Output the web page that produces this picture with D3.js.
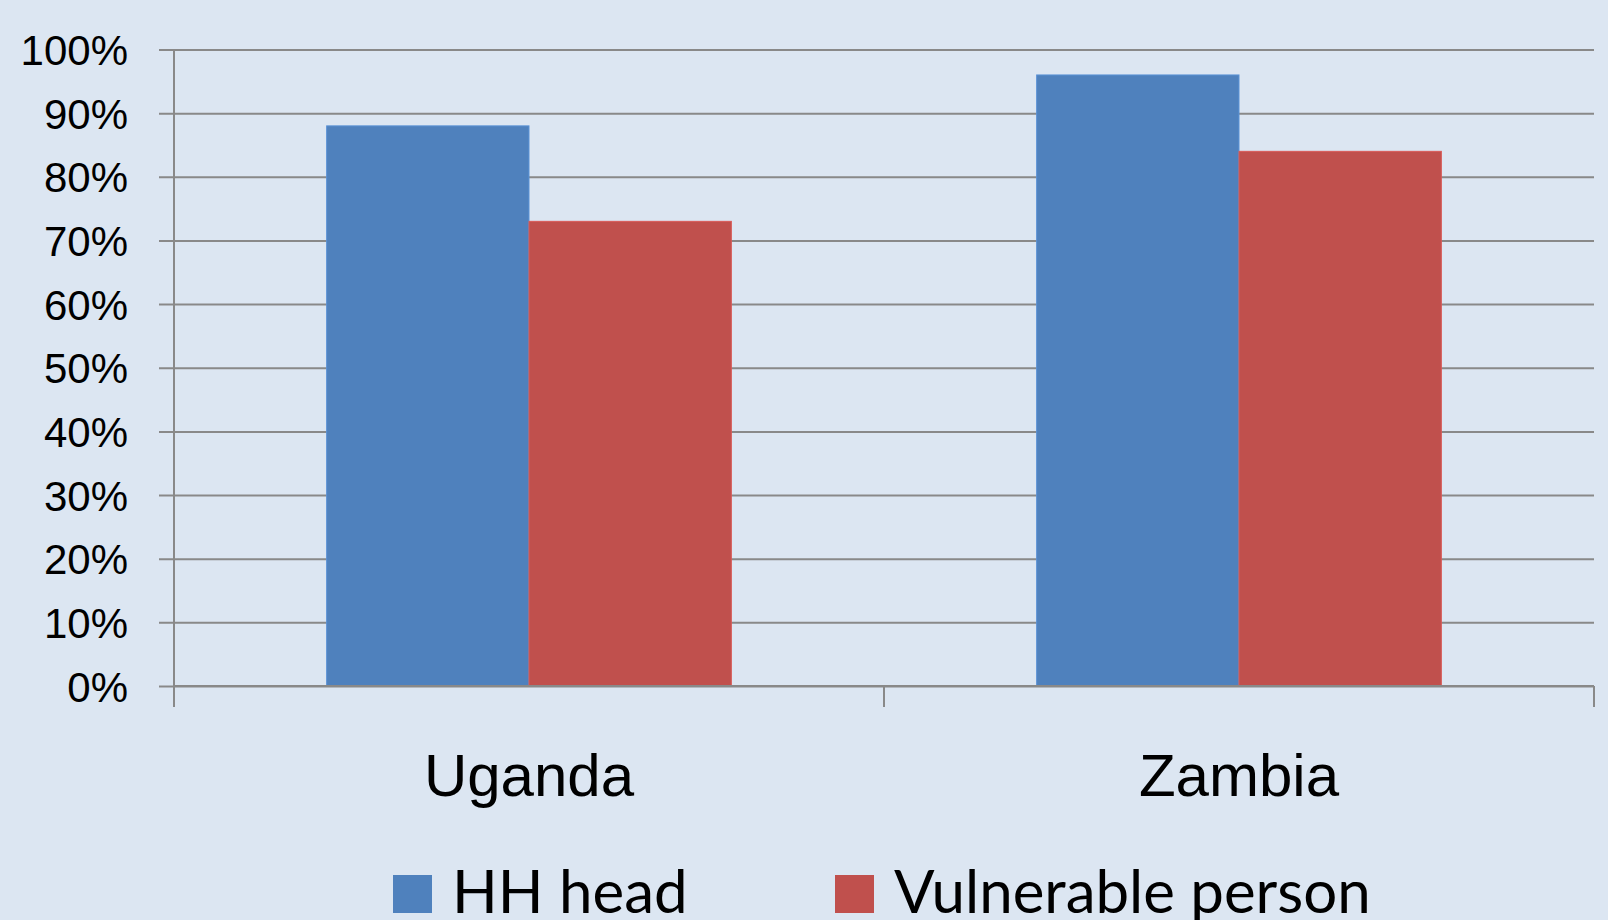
<!DOCTYPE html>
<html>
<head>
<meta charset="utf-8">
<script src="https://cdn.jsdelivr.net/npm/d3@7"></script>
<style>
  html, body { margin: 0; padding: 0; background: #dce6f2; }
  svg { display: block; font-family: Lato, "Open Sans", sans-serif; }
</style>
</head>
<body>
<div id="chart"></div>
<script>
const countries = ['Uganda', 'Zambia'];
const series = ['HH head', 'Vulnerable person'];
const hhHead = [0.88, 0.96];
const vulnerable = [0.73, 0.84];
const yTicks = [0, 0.1, 0.2, 0.3, 0.4, 0.5, 0.6, 0.7, 0.8, 0.9, 1.0];
const colors = ['#4f81bd', '#c0504d'];

const width = 1608;
const height = 920;
const margin = {top: 49.5, right: 14, bottom: 234, left: 174};
const gridColor = '#898989';

const data = countries.map((c, i) => ({country: c, values: [hhHead[i], vulnerable[i]]}));

const svg = d3.select('#chart').append('svg')
  .attr('width', width)
  .attr('height', height);

svg.append('rect')
  .attr('width', width)
  .attr('height', height)
  .attr('fill', '#dce6f2');

// scales
const x0 = d3.scaleBand()
  .domain(countries)
  .range([margin.left, width - margin.right]);

const gap = x0.bandwidth() * 0.215;
const x1 = d3.scaleBand()
  .domain(series)
  .range([gap, x0.bandwidth() - gap]);

const y = d3.scaleLinear()
  .domain([0, 1])
  .range([height - margin.bottom, margin.top]);

// gridlines + y labels
const yAxis = d3.axisLeft(y)
  .tickValues(yTicks)
  .tickFormat(d3.format('.0%'))
  .tickSizeInner(width - margin.right - (margin.left - 15))
  .tickSizeOuter(0)
  .tickPadding(31);

const yAxisG = svg.append('g')
  .attr('transform', `translate(${width - margin.right}, 0)`)
  .call(yAxis);

yAxisG.select('.domain').remove();
yAxisG.selectAll('line')
  .attr('stroke', gridColor)
  .attr('stroke-width', 2);
yAxisG.selectAll('text')
  .attr('fill', '#000')
  .style('font-size', '42px')
  .attr('dy', '0.36em');

// bars
const groups = svg.selectAll('g.country')
  .data(data)
  .enter().append('g')
  .attr('class', 'country')
  .attr('transform', d => `translate(${x0(d.country)}, 0)`);

groups.selectAll('rect')
  .data(d => d.values.map((v, i) => ({key: series[i], value: v, idx: i})))
  .enter().append('rect')
  .attr('x', d => x1(d.key))
  .attr('y', d => y(d.value))
  .attr('width', x1.bandwidth())
  .attr('height', d => y(0) - y(d.value))
  .attr('fill', d => colors[d.idx])
  .attr('stroke', d => d3.color(colors[d.idx]).brighter(0.35))
  .attr('stroke-width', 1);

// axis lines
svg.append('line')
  .attr('x1', margin.left).attr('x2', margin.left)
  .attr('y1', margin.top).attr('y2', y(0) + 21)
  .attr('stroke', gridColor)
  .attr('stroke-width', 2);

svg.append('line')
  .attr('x1', margin.left).attr('x2', width - margin.right)
  .attr('y1', y(0)).attr('y2', y(0))
  .attr('stroke', gridColor)
  .attr('stroke-width', 2);

// category separators below the axis
const bounds = countries.map(c => x0(c)).concat([width - margin.right]);
svg.selectAll('line.sep')
  .data(bounds)
  .enter().append('line')
  .attr('class', 'sep')
  .attr('x1', d => d).attr('x2', d => d)
  .attr('y1', y(0)).attr('y2', y(0) + 21)
  .attr('stroke', gridColor)
  .attr('stroke-width', 2);

// category labels
const xAxis = d3.axisBottom(x0).tickSize(0).tickPadding(0);
const xAxisG = svg.append('g')
  .attr('transform', `translate(0, ${y(0)})`)
  .call(xAxis);
xAxisG.select('.domain').remove();
xAxisG.selectAll('text')
  .attr('y', 110)
  .attr('dy', 0)
  .attr('fill', '#000')
  .style('font-size', '60px');

// legend
const legendX = [393, 835];
const legend = svg.append('g').attr('class', 'legend');
series.forEach((s, i) => {
  const g = legend.append('g');
  g.append('rect')
    .attr('x', legendX[i])
    .attr('y', 875)
    .attr('width', 39)
    .attr('height', 38)
    .attr('fill', colors[i]);
  g.append('text')
    .attr('x', legendX[i] + 59)
    .attr('y', 913)
    .style('font-size', '60px')
    .attr('fill', '#000')
    .text(s);
});
</script>
</body>
</html>
